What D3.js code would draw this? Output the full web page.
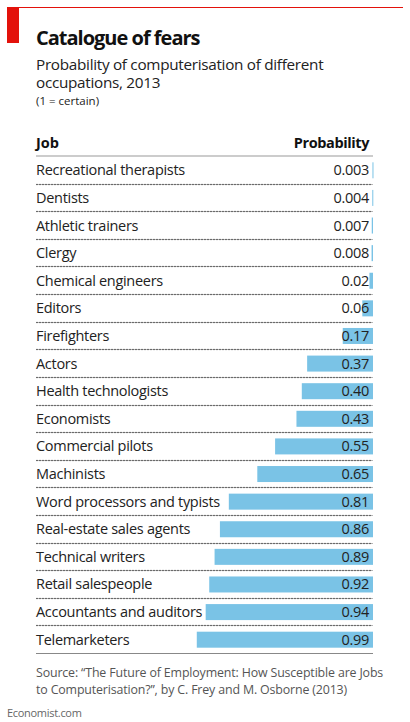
<!DOCTYPE html>
<html><head><meta charset="utf-8">
<script src="https://cdn.jsdelivr.net/npm/d3@7"></script>
<style>body{margin:0;background:#fff}svg{display:block}</style>
</head><body>
<script>
const jobs = ["Recreational therapists","Dentists","Athletic trainers","Clergy","Chemical engineers","Editors","Firefighters","Actors","Health technologists","Economists","Commercial pilots","Machinists","Word processors and typists","Real-estate sales agents","Technical writers","Retail salespeople","Accountants and auditors","Telemarketers"];
const probs = [0.003,0.004,0.007,0.008,0.02,0.06,0.17,0.37,0.40,0.43,0.55,0.65,0.81,0.86,0.89,0.92,0.94,0.99];
const probLabels = ["0.003","0.004","0.007","0.008","0.02","0.06","0.17","0.37","0.40","0.43","0.55","0.65","0.81","0.86","0.89","0.92","0.94","0.99"];

const W = 410, H = 722;
const font = "'Open Sans', sans-serif";
const svg = d3.select("body").append("svg").attr("width", W).attr("height", H);

// top rule and red tag
svg.append("line").attr("x1",7).attr("x2",403).attr("y1",7.5).attr("y2",7.5).attr("stroke","#e3120b").attr("stroke-width",1);
svg.append("rect").attr("x",7).attr("y",7).attr("width",12).attr("height",36).attr("fill","#e3120b");

svg.append("text").attr("x",36).attr("y",45).text("Catalogue of fears")
  .attr("font-family",font).attr("font-weight",700).attr("font-size",20).attr("fill","#111").attr("letter-spacing","-1");
svg.append("text").attr("x",36).attr("y",70).text("Probability of computerisation of different")
  .attr("font-family",font).attr("font-size",15.3).attr("fill","#222").attr("letter-spacing","-0.3");
svg.append("text").attr("x",36).attr("y",88).text("occupations, 2013")
  .attr("font-family",font).attr("font-size",15.3).attr("fill","#222").attr("letter-spacing","-0.3");
svg.append("text").attr("x",36).attr("y",105).text("(1 = certain)")
  .attr("font-family",font).attr("font-size",11.5).attr("fill","#222");

const left = 36, right = 373;
svg.append("text").attr("x",36).attr("y",148).text("Job")
  .attr("font-family",font).attr("font-weight",700).attr("font-size",14.5).attr("fill","#111");
svg.append("text").attr("x",369).attr("y",148).attr("text-anchor","end").text("Probability")
  .attr("font-family",font).attr("font-weight",700).attr("font-size",14.5).attr("fill","#111").attr("letter-spacing","-0.4");
svg.append("line").attr("x1",left).attr("x2",right).attr("y1",156).attr("y2",156).attr("stroke","#999").attr("stroke-width",1);

const y = d3.scaleBand().domain(jobs).range([156, 653]).padding(0);
const x = d3.scaleLinear().domain([0,1]).range([0,178]);
const barH = 16;

// dotted separators: grey base line plus dark dots
const sepYs = jobs.slice(1).map(d => Math.round(y(d)) + 0.5);
const sep = svg.append("g").attr("class","seps");
sep.selectAll("line").data(sepYs).join("line")
  .attr("x1",left).attr("x2",right).attr("y1",v => v).attr("y2",v => v)
  .attr("stroke","#b8b8b8").attr("stroke-width",1);
const dotXs = d3.range(left + 1, right, 3);
sep.selectAll("g").data(sepYs).join("g")
  .attr("transform", v => `translate(0,${v})`)
  .selectAll("circle").data(dotXs).join("circle")
  .attr("cx", v => v).attr("cy", 0).attr("r", 0.75).attr("fill", "#444");

const rows = svg.append("g").selectAll("g").data(jobs).join("g")
  .attr("transform", d => `translate(0,${y(d)})`);

rows.append("rect")
  .attr("x", (d,i) => right - x(probs[i]))
  .attr("width", (d,i) => Math.max(1, x(probs[i])))
  .attr("y", (y.bandwidth()-barH)/2 + 0.5)
  .attr("height", barH)
  .attr("fill", "#7ac3e6");

rows.append("text").attr("x", left).attr("y", y.bandwidth()/2 + 5.5).text(d => d)
  .attr("font-family",font).attr("font-size",14.5).attr("fill","#222").attr("letter-spacing","-0.3");
rows.append("text").attr("x", 369).attr("y", y.bandwidth()/2 + 5.5).attr("text-anchor","end")
  .text((d,i) => probLabels[i])
  .attr("font-family",font).attr("font-size",14.5).attr("fill","#222").attr("letter-spacing","-0.3");

svg.append("line").attr("x1",left).attr("x2",right).attr("y1",653.5).attr("y2",653.5).attr("stroke","#888").attr("stroke-width",1);

svg.append("text").attr("x",36).attr("y",677).text("Source: \u201cThe Future of Employment: How Susceptible are Jobs")
  .attr("font-family",font).attr("font-size",12.4).attr("fill","#555").attr("letter-spacing","-0.15");
svg.append("text").attr("x",36).attr("y",694).text("to Computerisation?\u201d, by C. Frey and M. Osborne (2013)")
  .attr("font-family",font).attr("font-size",12.4).attr("fill","#555").attr("letter-spacing","-0.15");
svg.append("text").attr("x",7).attr("y",717).text("Economist.com")
  .attr("font-family",font).attr("font-size",11).attr("fill","#666").attr("letter-spacing","-0.3");
</script>
</body></html>
